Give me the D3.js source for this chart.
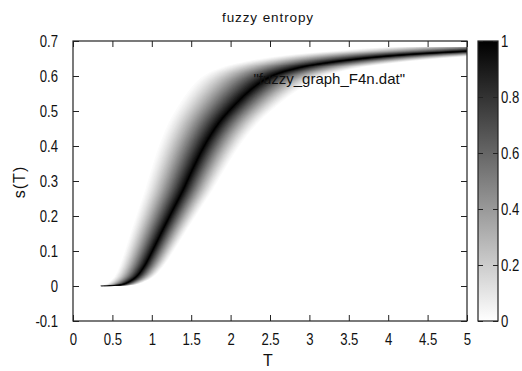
<!DOCTYPE html>
<html>
<head>
<meta charset="utf-8">
<script src="https://cdn.jsdelivr.net/npm/d3@7"></script>
<style>
  html, body { margin: 0; padding: 0; background: #fff; }
  svg { display: block; }
  text { font-family: "Liberation Sans", Arial, sans-serif; fill: #111; }
</style>
</head>
<body>
<svg id="chart" width="522" height="371"></svg>
<script>
// ---- data ----
const temperatures = [0.35, 0.5, 0.65, 0.8, 0.9, 1.0, 1.1, 1.2, 1.3, 1.4, 1.5, 1.6, 1.7, 1.8, 1.9, 2.0, 2.2, 2.4, 2.6, 2.8, 3.0, 3.5, 4.0, 4.5, 5.0, 5.5, 6.0];
const entropy      = [0.0, 0.001, 0.006, 0.026, 0.055, 0.097, 0.143, 0.188, 0.232, 0.276, 0.325, 0.372, 0.414, 0.450, 0.480, 0.505, 0.550, 0.585, 0.607, 0.620, 0.630, 0.646, 0.657, 0.665, 0.671, 0.677, 0.682];
const fuzzyLeft  = 0.36;   // relative spread of the fuzzy temperature below the centre
const fuzzyRight = 0.28;   // relative spread above the centre
const membershipPower = 1.35; // how fast the membership falls away from the centre
const tMin = 0.35;         // first temperature in the data file
const xTicks = [0, 0.5, 1, 1.5, 2, 2.5, 3, 3.5, 4, 4.5, 5];
const xTickLabels = ["0", "0.5", "1", "1.5", "2", "2.5", "3", "3.5", "4", "4.5", "5"];
const yTicks = [-0.1, 0, 0.1, 0.2, 0.3, 0.4, 0.5, 0.6, 0.7];
const yTickLabels = ["-0.1", "0", "0.1", "0.2", "0.3", "0.4", "0.5", "0.6", "0.7"];
const cbTicks = [0, 0.2, 0.4, 0.6, 0.8, 1];
const cbTickLabels = ["0", "0.2", "0.4", "0.6", "0.8", "1"];
const levels = d3.range(1, 71).map(i => i / 70);

// ---- layout ----
const svg = d3.select("#chart");
const L = 73, R = 467, T = 41, B = 321;
const x = d3.scaleLinear().domain([0, 5]).range([L, R]);
const y = d3.scaleLinear().domain([-0.1, 0.7]).range([B, T]);
const shade = d3.scaleLinear().domain([0, 1]).range(["#ffffff", "#000000"]);

const defs = svg.append("defs");
defs.append("clipPath").attr("id", "clip")
  .append("rect").attr("x", x(tMin)).attr("y", T).attr("width", R - x(tMin)).attr("height", B - T);

const pts = temperatures.map((t, i) => [t, entropy[i]]);
const line = d3.line().x(d => x(d[0])).y(d => y(d[1])).curve(d3.curveCatmullRom);

const band = svg.append("g").attr("clip-path", "url(#clip)");
levels.forEach(mu => {
  const u = 1 - Math.pow(mu, 1 / membershipPower);
  const kl = fuzzyLeft * u, kr = fuzzyRight * u;
  const left = pts.map(p => [p[0] * (1 - kl), p[1]]);
  const right = pts.map(p => [p[0] * (1 + kr), p[1]]).reverse();
  const d = line(left) + "L" + line(right).slice(1) + "Z";
  band.append("path").attr("d", d).attr("fill", shade(mu)).attr("stroke", "none");
});
band.append("path").attr("d", line(pts)).attr("fill", "none").attr("stroke", "#000").attr("stroke-width", 0.9);

// ---- axes ----
const condense = (g, sx) => {
  g.selectAll("text").each(function () {
    const t = d3.select(this);
    const xx = +t.attr("x") || 0;
    t.attr("x", 0).attr("transform", `translate(${xx},0) scale(${sx},1)`);
  });
};
const tickStyle = g => {
  g.select(".domain").remove();
  g.selectAll(".tick line").attr("stroke", "#222").attr("stroke-width", 1);
  g.selectAll("text").style("font-size", "16px").attr("fill", "#111");
  condense(g, 0.82);
};
svg.append("g").attr("transform", `translate(0,${B})`)
  .call(d3.axisBottom(x).tickValues(xTicks).tickFormat((d, i) => xTickLabels[i]).tickSize(-6).tickPadding(13))
  .call(tickStyle);
svg.append("g").attr("transform", `translate(0,${T})`)
  .call(d3.axisTop(x).tickValues(xTicks).tickFormat("").tickSize(-6))
  .call(tickStyle);
svg.append("g").attr("transform", `translate(${L},0)`)
  .call(d3.axisLeft(y).tickValues(yTicks).tickFormat((d, i) => yTickLabels[i]).tickSize(-6).tickPadding(15))
  .call(tickStyle);
svg.append("g").attr("transform", `translate(${R},0)`)
  .call(d3.axisRight(y).tickValues(yTicks).tickFormat("").tickSize(-6))
  .call(tickStyle);

svg.append("rect").attr("x", L).attr("y", T).attr("width", R - L).attr("height", B - T)
  .attr("fill", "none").attr("stroke", "#222").attr("stroke-width", 1.2);

// ---- colour box ----
const grad = defs.append("linearGradient").attr("id", "cbgrad")
  .attr("x1", 0).attr("y1", 1).attr("x2", 0).attr("y2", 0);
cbTicks.forEach(v => grad.append("stop").attr("offset", v).attr("stop-color", shade(v)));
const cbL = 478, cbR = 498;
const cb = d3.scaleLinear().domain([0, 1]).range([B, T]);
svg.append("rect").attr("x", cbL).attr("y", T).attr("width", cbR - cbL).attr("height", B - T)
  .attr("fill", "url(#cbgrad)");
svg.append("g").attr("transform", `translate(${cbR},0)`)
  .call(d3.axisRight(cb).tickValues(cbTicks).tickFormat((d, i) => cbTickLabels[i]).tickSize(-5).tickPadding(3))
  .call(tickStyle);
svg.append("g").attr("transform", `translate(${cbL},0)`)
  .call(d3.axisLeft(cb).tickValues(cbTicks).tickFormat("").tickSize(-5))
  .call(tickStyle);
svg.append("rect").attr("x", cbL).attr("y", T).attr("width", cbR - cbL).attr("height", B - T)
  .attr("fill", "none").attr("stroke", "#222").attr("stroke-width", 1.2);

// ---- texts ----
svg.append("text").attr("x", 268).attr("y", 22).attr("text-anchor", "middle")
  .style("font-size", "13.5px").style("letter-spacing", "0.9px").text("fuzzy entropy");
svg.append("text").attr("x", 405).attr("y", 84).attr("text-anchor", "end")
  .style("font-size", "15px").text("\"fuzzy_graph_F4n.dat\"");
svg.append("text").attr("x", 268).attr("y", 366).attr("text-anchor", "middle")
  .style("font-size", "16px").text("T");
svg.append("text").attr("transform", "translate(25,182) rotate(-90)").attr("text-anchor", "middle")
  .style("font-size", "16px").style("letter-spacing", "1px").text("s(T)");
</script>
</body>
</html>
